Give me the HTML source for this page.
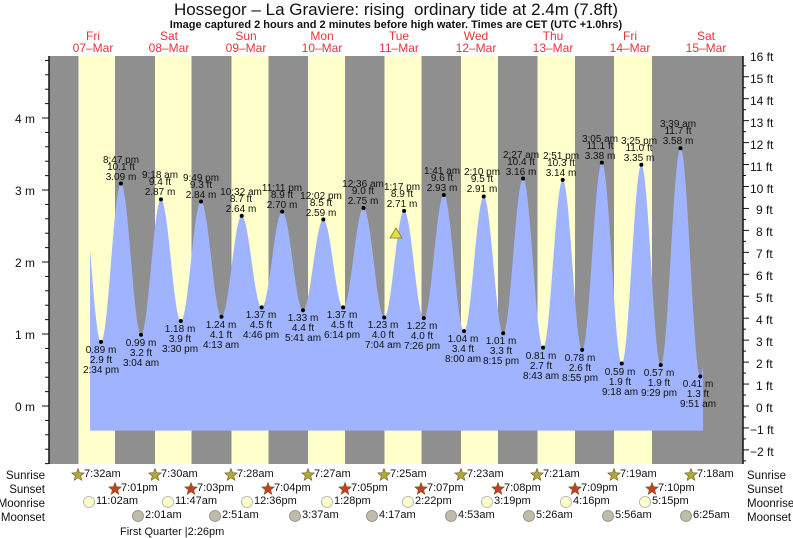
<!DOCTYPE html>
<html><head><meta charset="utf-8"><style>
html,body{margin:0;padding:0;background:#fff;}
svg{display:block;font-family:"Liberation Sans",sans-serif;}
.hl text,.lo text{font-size:10px;fill:#111;text-anchor:middle;}
.ax{font-size:12px;fill:#111;}
.rw{font-size:11.5px;fill:#111;}
.ev{font-size:11px;fill:#111;}
.dy{font-size:12px;fill:#e8333a;text-anchor:middle;}
</style></head><body>
<svg id="s" width="793" height="538" viewBox="0 0 793 538">
<rect x="49" y="56" width="694" height="408" fill="#8f8f8f"/>
<g fill="#ffffcc">
<rect x="78.5" y="56" width="36.5" height="408"/>
<rect x="155" y="56" width="36.5" height="408"/>
<rect x="231.5" y="56" width="37" height="408"/>
<rect x="308" y="56" width="37" height="408"/>
<rect x="384.5" y="56" width="37" height="408"/>
<rect x="461" y="56" width="37" height="408"/>
<rect x="537.5" y="56" width="37.5" height="408"/>
<rect x="614" y="56" width="38" height="408"/>
</g>
<path id="tide" fill="#9fb3fe" d=""/>
<text x="396" y="15" text-anchor="middle" font-size="17" fill="#111">Hossegor – La Graviere: rising&#160; ordinary tide at 2.4m (7.8ft)</text>
<text x="396" y="28" text-anchor="middle" font-size="11" font-weight="bold" fill="#111">Image captured 2 hours and 2 minutes before high water. Times are CET (UTC +1.0hrs)</text>
<g class="dy">
<text x="93" y="40">Fri</text><text x="93" y="52">07–Mar</text>
<text x="169" y="40">Sat</text><text x="169" y="52">08–Mar</text>
<text x="246" y="40">Sun</text><text x="246" y="52">09–Mar</text>
<text x="322" y="40">Mon</text><text x="322" y="52">10–Mar</text>
<text x="399" y="40">Tue</text><text x="399" y="52">11–Mar</text>
<text x="476" y="40">Wed</text><text x="476" y="52">12–Mar</text>
<text x="553" y="40">Thu</text><text x="553" y="52">13–Mar</text>
<text x="630" y="40">Fri</text><text x="630" y="52">14–Mar</text>
<text x="706" y="40">Sat</text><text x="706" y="52">15–Mar</text>
</g>
<g id="axes" stroke="#111"></g>
<g class="ax" text-anchor="end">
<text x="35" y="123">4 m</text><text x="35" y="195">3 m</text><text x="35" y="267">2 m</text><text x="35" y="339">1 m</text><text x="35" y="411">0 m</text>
</g>
<g class="ax">
<text x="750" y="61">16 ft</text><text x="750" y="83">15 ft</text><text x="750" y="105">14 ft</text><text x="750" y="127">13 ft</text>
<text x="750" y="149">12 ft</text><text x="750" y="171">11 ft</text><text x="750" y="193">10 ft</text><text x="756" y="214">9 ft</text>
<text x="756" y="236">8 ft</text><text x="756" y="258">7 ft</text><text x="756" y="280">6 ft</text><text x="756" y="302">5 ft</text>
<text x="756" y="324">4 ft</text><text x="756" y="346">3 ft</text><text x="756" y="368">2 ft</text><text x="756" y="390">1 ft</text>
<text x="756" y="412">0 ft</text><text x="750" y="434">−1 ft</text><text x="750" y="456">−2 ft</text>
</g>
<g class="hl">
<g transform="translate(121,184)"><text y="-4">3.09 m</text><text y="-14">10.1 ft</text><text y="-21">8:47 pm</text></g>
<g transform="translate(160,199)"><text y="-4">2.87 m</text><text y="-14">9.4 ft</text><text y="-21">9:18 am</text></g>
<g transform="translate(201,202)"><text y="-4">2.84 m</text><text y="-14">9.3 ft</text><text y="-21">9:49 pm</text></g>
<g transform="translate(241,216)"><text y="-4">2.64 m</text><text y="-14">8.7 ft</text><text y="-21">10:32 am</text></g>
<g transform="translate(282,212)"><text y="-4">2.70 m</text><text y="-14">8.9 ft</text><text y="-21">11:11 pm</text></g>
<g transform="translate(321,220)"><text y="-4">2.59 m</text><text y="-14">8.5 ft</text><text y="-21">12:02 pm</text></g>
<g transform="translate(363,208)"><text y="-4">2.75 m</text><text y="-14">9.0 ft</text><text y="-21">12:36 am</text></g>
<g transform="translate(402,211)"><text y="-4">2.71 m</text><text y="-14">8.9 ft</text><text y="-21">1:17 pm</text></g>
<g transform="translate(442,195)"><text y="-4">2.93 m</text><text y="-14">9.6 ft</text><text y="-21">1:41 am</text></g>
<g transform="translate(482,196)"><text y="-4">2.91 m</text><text y="-14">9.5 ft</text><text y="-21">2:10 pm</text></g>
<g transform="translate(521,179)"><text y="-4">3.16 m</text><text y="-14">10.4 ft</text><text y="-21">2:27 am</text></g>
<g transform="translate(561,180)"><text y="-4">3.14 m</text><text y="-14">10.3 ft</text><text y="-21">2:51 pm</text></g>
<g transform="translate(600,163)"><text y="-4">3.38 m</text><text y="-14">11.1 ft</text><text y="-21">3:05 am</text></g>
<g transform="translate(639,165)"><text y="-4">3.35 m</text><text y="-14">11.0 ft</text><text y="-21">3:25 pm</text></g>
<g transform="translate(678,148)"><text y="-4">3.58 m</text><text y="-14">11.7 ft</text><text y="-21">3:39 am</text></g>
</g>
<g class="lo">
<g transform="translate(101,342)"><text y="11">0.89 m</text><text y="21">2.9 ft</text><text y="31">2:34 pm</text></g>
<g transform="translate(141,335)"><text y="11">0.99 m</text><text y="21">3.2 ft</text><text y="31">3:04 am</text></g>
<g transform="translate(180,321)"><text y="11">1.18 m</text><text y="21">3.9 ft</text><text y="31">3:30 pm</text></g>
<g transform="translate(221,317)"><text y="11">1.24 m</text><text y="21">4.1 ft</text><text y="31">4:13 am</text></g>
<g transform="translate(261,307)"><text y="11">1.37 m</text><text y="21">4.5 ft</text><text y="31">4:46 pm</text></g>
<g transform="translate(303,310)"><text y="11">1.33 m</text><text y="21">4.4 ft</text><text y="31">5:41 am</text></g>
<g transform="translate(342,307)"><text y="11">1.37 m</text><text y="21">4.5 ft</text><text y="31">6:14 pm</text></g>
<g transform="translate(383,317)"><text y="11">1.23 m</text><text y="21">4.0 ft</text><text y="31">7:04 am</text></g>
<g transform="translate(422,318)"><text y="11">1.22 m</text><text y="21">4.0 ft</text><text y="31">7:26 pm</text></g>
<g transform="translate(463,331)"><text y="11">1.04 m</text><text y="21">3.4 ft</text><text y="31">8:00 am</text></g>
<g transform="translate(501,333)"><text y="11">1.01 m</text><text y="21">3.3 ft</text><text y="31">8:15 pm</text></g>
<g transform="translate(541,348)"><text y="11">0.81 m</text><text y="21">2.7 ft</text><text y="31">8:43 am</text></g>
<g transform="translate(580,350)"><text y="11">0.78 m</text><text y="21">2.6 ft</text><text y="31">8:55 pm</text></g>
<g transform="translate(620,364)"><text y="11">0.59 m</text><text y="21">1.9 ft</text><text y="31">9:18 am</text></g>
<g transform="translate(659,365)"><text y="11">0.57 m</text><text y="21">1.9 ft</text><text y="31">9:29 pm</text></g>
<g transform="translate(698,376)"><text y="11">0.41 m</text><text y="21">1.3 ft</text><text y="31">9:51 am</text></g>
</g>
<g id="dots" fill="#000"></g>
<polygon points="390,238 402,238 396,228" fill="#e8e040" stroke="#7a7a20" stroke-width="0.8"/>
<g class="rw" text-anchor="end">
<text x="45" y="479">Sunrise</text><text x="45" y="493">Sunset</text><text x="45" y="507">Moonrise</text><text x="45" y="521">Moonset</text>
</g>
<g class="rw">
<text x="747" y="479">Sunrise</text><text x="747" y="493">Sunset</text><text x="747" y="507">Moonrise</text><text x="747" y="521">Moonset</text>
</g>
<g id="ev" class="ev"></g>
<text x="120" y="535" class="ev">First Quarter |2:26pm</text>
</svg>
<script>
(function(){
var ns="http://www.w3.org/2000/svg";
function el(p,t,a){var e=document.createElementNS(ns,t);for(var k in a)e.setAttribute(k,a[k]);p.appendChild(e);return e;}
function Y(m){return 406-72*m;}
function X(d,h,mi){return 54.4+76.8*(d+(h+mi/60)/24);}
var ex=[[X(0,8,20),3.1],[X(0,14,34),0.89],[X(0,20,47),3.09],[X(1,3,4),0.99],[X(1,9,18),2.87],[X(1,15,30),1.18],[X(1,21,49),2.84],
[X(2,4,13),1.24],[X(2,10,32),2.64],[X(2,16,46),1.37],[X(2,23,11),2.70],[X(3,5,41),1.33],[X(3,12,2),2.59],[X(3,18,14),1.37],
[X(4,0,36),2.75],[X(4,7,4),1.23],[X(4,13,17),2.71],[X(4,19,26),1.22],[X(5,1,41),2.93],[X(5,8,0),1.04],[X(5,14,10),2.91],[X(5,20,15),1.01],
[X(6,2,27),3.16],[X(6,8,43),0.81],[X(6,14,51),3.14],[X(6,20,55),0.78],[X(7,3,5),3.38],[X(7,9,18),0.59],[X(7,15,25),3.35],[X(7,21,29),0.57],
[X(8,3,39),3.58],[X(8,9,51),0.41],[X(8,16,5),3.5]];
function h(x){for(var i=0;i<ex.length-1;i++){if(x>=ex[i][0]&&x<=ex[i+1][0]){var t=(x-ex[i][0])/(ex[i+1][0]-ex[i][0]);return ex[i][1]+(ex[i+1][1]-ex[i][1])*(1-Math.cos(Math.PI*t))/2;}}return 0;}
var d="M90,430.6";for(var x=90;x<=703;x+=0.5){d+=" L"+x+","+Y(h(x)).toFixed(1);}d+=" L703,430.6 Z";
document.getElementById("tide").setAttribute("d",d);
var dots=document.getElementById("dots");
for(var i=1;i<ex.length-1;i++)el(dots,"circle",{cx:ex[i][0],cy:Y(ex[i][1]),r:2});
var ax=document.getElementById("axes");
el(ax,"line",{x1:49,y1:56,x2:49,y2:464,"stroke-width":1.5});
el(ax,"line",{x1:743,y1:56,x2:743,y2:464,"stroke-width":1.5});
for(var m=-0.8;m<=4.81;m+=0.2){var y=Y(m);var maj=Math.abs(m-Math.round(m))<0.01;if(y<56||y>464)continue;el(ax,"line",{x1:maj?42:45,y1:y,x2:49,y2:y,"stroke-width":1});}
for(var f=-2.5;f<=16.01;f+=0.5){var y=406-21.95*f;if(y<55||y>464)continue;var maj=Math.abs(f-Math.round(f))<0.01;el(ax,"line",{x1:743,y1:y,x2:maj?749:746,y2:y,"stroke-width":1});}
var ev=document.getElementById("ev");
function star(cx,cy,fill){var p="";for(var k=0;k<10;k++){var r=k%2?2.8:6.5,a=-Math.PI/2+k*Math.PI/5;p+=(cx+r*Math.cos(a)).toFixed(1)+","+(cy+r*Math.sin(a)).toFixed(1)+" ";}el(ev,"polygon",{points:p,fill:fill,stroke:"#6b5a20","stroke-width":0.6});}
var sr=[78,155,231,308,384,461,537,614,691];sr.forEach(function(x){star(x,475,"#b0a83a");});
var ss=[115,191,268,345,421,498,575,652];ss.forEach(function(x){star(x,489,"#d03a20");});
var mr=[89,168,247,327,408,487,566,645];mr.forEach(function(x){el(ev,"circle",{cx:x,cy:502,r:5.5,fill:"#ffffcc",stroke:"#aaa","stroke-width":0.8});});
var ms=[138,215,295,372,451,529,608,686];ms.forEach(function(x){el(ev,"circle",{cx:x,cy:516,r:5.5,fill:"#c0bca8",stroke:"#888","stroke-width":0.8});});
})();
</script>
<div style="position:absolute;left:0;top:0;width:793px;height:538px;pointer-events:none;font-family:'Liberation Sans',sans-serif;font-size:11px;color:#111">
<span style="position:absolute;left:84px;top:468px">7:32am</span><span style="position:absolute;left:161px;top:468px">7:30am</span><span style="position:absolute;left:237px;top:468px">7:28am</span><span style="position:absolute;left:314px;top:468px">7:27am</span><span style="position:absolute;left:390px;top:468px">7:25am</span><span style="position:absolute;left:467px;top:468px">7:23am</span><span style="position:absolute;left:543px;top:468px">7:21am</span><span style="position:absolute;left:620px;top:468px">7:19am</span><span style="position:absolute;left:697px;top:468px">7:18am</span>
<span style="position:absolute;left:121px;top:482px">7:01pm</span><span style="position:absolute;left:197px;top:482px">7:03pm</span><span style="position:absolute;left:274px;top:482px">7:04pm</span><span style="position:absolute;left:351px;top:482px">7:05pm</span><span style="position:absolute;left:427px;top:482px">7:07pm</span><span style="position:absolute;left:504px;top:482px">7:08pm</span><span style="position:absolute;left:581px;top:482px">7:09pm</span><span style="position:absolute;left:658px;top:482px">7:10pm</span>
<span style="position:absolute;left:96px;top:495px">11:02am</span><span style="position:absolute;left:175px;top:495px">11:47am</span><span style="position:absolute;left:254px;top:495px">12:36pm</span><span style="position:absolute;left:334px;top:495px">1:28pm</span><span style="position:absolute;left:415px;top:495px">2:22pm</span><span style="position:absolute;left:494px;top:495px">3:19pm</span><span style="position:absolute;left:573px;top:495px">4:16pm</span><span style="position:absolute;left:652px;top:495px">5:15pm</span>
<span style="position:absolute;left:145px;top:509px">2:01am</span><span style="position:absolute;left:222px;top:509px">2:51am</span><span style="position:absolute;left:302px;top:509px">3:37am</span><span style="position:absolute;left:379px;top:509px">4:17am</span><span style="position:absolute;left:458px;top:509px">4:53am</span><span style="position:absolute;left:536px;top:509px">5:26am</span><span style="position:absolute;left:615px;top:509px">5:56am</span><span style="position:absolute;left:693px;top:509px">6:25am</span>
</div>
</body></html>
